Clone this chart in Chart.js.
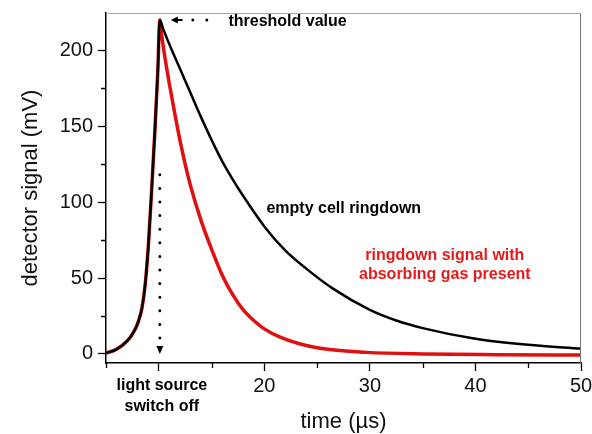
<!DOCTYPE html>
<html>
<head>
<meta charset="utf-8">
<script src="https://cdn.jsdelivr.net/npm/chart.js@4"></script>
<style>
	html, body { margin: 0; padding: 0; background: #fff; }
	canvas { display: block; }
</style>
</head>
<body>
<canvas id="chart" width="592" height="434"></canvas>
<script>
// rise while the light source is on (shared by both traces)
const riseTime = [5, 6, 7, 7.5, 8, 8.4, 8.7, 9, 9.3, 9.6, 9.9, 10.1];
const riseSignal = [0.5, 3, 8.5, 13, 20, 30, 45, 70, 105, 143, 185, 220];

// empty cell ringdown (black)
const emptyTime = [10.4, 11, 12, 13, 14, 15, 16, 17, 18, 20, 22, 24, 26.5, 30, 32.5, 35, 40, 45, 50];
const emptySignal = [214.5, 204, 188, 172, 156, 141, 127, 115, 104, 84, 68, 56, 43, 29, 22, 17, 10, 6, 3.5];

// ringdown with absorbing gas present (red)
const gasTime = [10.25, 10.5, 11, 11.5, 12, 12.5, 13, 14, 15, 16, 17, 18, 19, 20, 21.5, 23.4, 26, 29.7, 35, 42, 50];
const gasSignal = [211.5, 199, 178, 159, 141, 125, 111, 88, 69, 52, 39, 29, 22, 16.5, 11, 6.5, 3, 1, 0, -0.5, -0.8];

const xTickLabels = [20, 30, 40, 50];
const xMajorTicks = [10, 20, 30, 40, 50];
const yTickLabels = [0, 50, 100, 150, 200];
const yTicks = [0, 25, 50, 75, 100, 125, 150, 175, 200];

const peakTime = 10.1;
const peakSignal = 220;

const RED = "#e01010";
const MINOR_TICK = 4;

const toPoints = (xs, ys) => xs.map((x, i) => ({ x, y: ys[i] }));

/**
 * Frame lines, minor ticks, dotted arrows and the text notes on the plot
 */
const notes = {
	id: "notes",
	afterDraw(chart) {
		const { ctx, chartArea: area, scales } = chart;
		const xs = scales.x;
		const ys = scales.y;
		ctx.save();

		// thin top / right frame
		ctx.lineWidth = 1;
		ctx.strokeStyle = "#aaa";
		ctx.beginPath();
		ctx.moveTo(area.left, area.top + 0.5);
		ctx.lineTo(area.right, area.top + 0.5);
		ctx.stroke();
		ctx.strokeStyle = "#777";
		ctx.beginPath();
		ctx.moveTo(area.right - 0.5, area.top);
		ctx.lineTo(area.right - 0.5, area.bottom);
		ctx.stroke();

		// short minor ticks
		ctx.strokeStyle = "#000";
		ctx.lineWidth = 1.3;
		ctx.beginPath();
		xs.ticks.filter((t) => !xMajorTicks.includes(t.value)).forEach((t) => {
			const x = Math.round(xs.getPixelForValue(t.value)) + 0.5;
			ctx.moveTo(x, area.bottom);
			ctx.lineTo(x, area.bottom + MINOR_TICK + 1);
		});
		ys.ticks.filter((t) => !yTickLabels.includes(t.value)).forEach((t) => {
			const y = Math.round(ys.getPixelForValue(t.value)) + 0.5;
			ctx.moveTo(area.left, y);
			ctx.lineTo(area.left - MINOR_TICK - 1, y);
		});
		ctx.stroke();

		const px = xs.getPixelForValue(peakTime);
		const py = ys.getPixelForValue(peakSignal);

		// dotted arrow pointing at the threshold
		ctx.fillStyle = "#000";
		ctx.lineCap = "round";
		ctx.lineWidth = 3;
		ctx.setLineDash([0, 14]);
		ctx.beginPath();
		ctx.moveTo(px + 47, py);
		ctx.lineTo(px + 25, py);
		ctx.stroke();
		ctx.setLineDash([]);
		ctx.lineWidth = 2;
		ctx.beginPath();
		ctx.moveTo(px + 22, py);
		ctx.lineTo(px + 14, py);
		ctx.stroke();
		ctx.beginPath();
		ctx.moveTo(px + 11, py);
		ctx.lineTo(px + 18, py - 3.5);
		ctx.lineTo(px + 18, py + 3.5);
		ctx.closePath();
		ctx.fill();

		// dotted arrow at light source switch off
		ctx.lineWidth = 3;
		ctx.setLineDash([0, 13.6]);
		ctx.beginPath();
		ctx.moveTo(px, ys.getPixelForValue(118));
		ctx.lineTo(px, ys.getPixelForValue(6));
		ctx.stroke();
		ctx.setLineDash([]);
		const by = ys.getPixelForValue(0);
		ctx.beginPath();
		ctx.moveTo(px, by);
		ctx.lineTo(px - 3.5, by - 8);
		ctx.lineTo(px + 3.5, by - 8);
		ctx.closePath();
		ctx.fill();

		// text notes
		ctx.font = "bold 16px 'Liberation Sans', Arial, sans-serif";
		ctx.textBaseline = "middle";
		ctx.textAlign = "left";
		ctx.fillText("threshold value", xs.getPixelForValue(16.6), py + 2);
		ctx.fillText("empty cell ringdown", xs.getPixelForValue(20.2), ys.getPixelForValue(96));

		ctx.textAlign = "center";
		ctx.fillText("light source", px + 2, area.bottom + 23);
		ctx.fillText("switch off", px + 2, area.bottom + 44);

		ctx.fillStyle = "#e61a1a";
		const rx = xs.getPixelForValue(37.1);
		ctx.fillText("ringdown signal with", rx, ys.getPixelForValue(65));
		ctx.fillText("absorbing gas present", rx, ys.getPixelForValue(52));

		ctx.restore();
	},
};

const tickFont = { family: "'Liberation Sans', Arial, sans-serif", size: 20 };
const titleFont = { family: "'Liberation Sans', Arial, sans-serif", size: 22, lineHeight: 1 };
const hidden = "rgba(0,0,0,0)";

const ctx = document.getElementById("chart").getContext("2d");
new Chart(ctx, {
	type: "line",
	data: {
		datasets: [
			{
				label: "empty cell ringdown",
				data: toPoints(riseTime.concat(emptyTime), riseSignal.concat(emptySignal)),
				borderColor: "#000",
				borderWidth: 2.5,
				order: 1,
			},
			{
				label: "ringdown signal with absorbing gas present",
				data: toPoints(riseTime.concat(gasTime), riseSignal.concat(gasSignal)),
				borderColor: RED,
				borderWidth: 3.5,
				order: 2,
			},
		],
	},
	plugins: [notes],
	options: {
		responsive: false,
		animation: false,
		devicePixelRatio: 1,
		layout: { padding: { top: 13, right: 11, left: 0, bottom: 0 } },
		elements: {
			point: { radius: 0 },
			line: { cubicInterpolationMode: "monotone", fill: false },
		},
		plugins: { legend: { display: false }, tooltip: { enabled: false } },
		scales: {
			x: {
				type: "linear",
				min: 5,
				max: 50,
				afterFit: (scale) => {
					scale.height = 71;
					scale.paddingLeft = 0;
					scale.paddingRight = 0;
				},
				border: { color: "#000", width: 1.5 },
				grid: {
					drawOnChartArea: false,
					tickLength: 8,
					tickWidth: 1.3,
					tickColor: (c) => (c.tick && xMajorTicks.includes(c.tick.value) ? "#000" : hidden),
				},
				ticks: {
					stepSize: 5,
					padding: 3,
					color: "#111",
					font: tickFont,
					maxRotation: 0,
					autoSkip: false,
					callback: (v) => (xTickLabels.includes(v) ? String(v) : ""),
				},
				title: {
					display: true,
					text: "time (µs)",
					color: "#111",
					font: titleFont,
					padding: { top: 0, bottom: 1 },
				},
			},
			y: {
				type: "linear",
				min: -6,
				max: 224.6,
				afterFit: (scale) => {
					scale.width = 106;
					scale.paddingTop = 0;
					scale.paddingBottom = 0;
				},
				afterBuildTicks: (scale) => { scale.ticks = yTicks.map((v) => ({ value: v })); },
				border: { color: "#000", width: 1.5 },
				grid: {
					drawOnChartArea: false,
					tickLength: 8,
					tickWidth: 1.3,
					tickColor: (c) => (c.tick && yTickLabels.includes(c.tick.value) ? "#000" : hidden),
				},
				ticks: {
					padding: 5,
					color: "#111",
					font: tickFont,
					callback: (v) => (yTickLabels.includes(v) ? String(v) : ""),
				},
				title: {
					display: true,
					text: "detector signal (mV)",
					color: "#111",
					font: titleFont,
					padding: { top: 20, bottom: 0 },
				},
			},
		},
	},
});
</script>
</body>
</html>
